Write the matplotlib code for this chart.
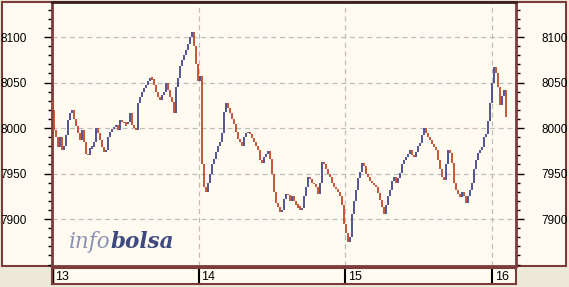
import matplotlib
matplotlib.use("Agg")
import matplotlib.pyplot as plt
from matplotlib.patches import Rectangle
from matplotlib.ticker import MultipleLocator

# ---- data (approximate closing prices, one bar per period) ----
day13 = [8020, 7998, 7990, 7979, 7990, 7976, 7980, 7992, 8009, 8016,
         8020, 8010, 8002, 7995, 7987, 7998, 7985, 7972, 7970, 7978,
         7979, 7985, 8000, 7995, 7987, 7979, 7974, 7976, 7990, 7996,
         7999, 8001, 8003, 7998, 8009, 8007, 8005, 8004, 8007, 8016,
         8003, 8000, 7998, 8027, 8034, 8040, 8044, 8047, 8052, 8055,
         8054, 8047, 8040, 8034, 8031, 8036, 8040, 8049, 8042, 8034,
         8029, 8016, 8045, 8055, 8068, 8075, 8080, 8086, 8092, 8100,
         8106, 8090, 8070, 8052]
day14 = [8057, 7960, 7935, 7930, 7940, 7950, 7960, 7966, 7974, 7980,
         7985, 7995, 8018, 8027, 8022, 8016, 8010, 8004, 7996, 7988,
         7985, 7980, 7990, 7994, 7996, 7993, 7989, 7985, 7980, 7976,
         7965, 7962, 7968, 7972, 7975, 7966, 7950, 7930, 7918, 7913,
         7908, 7910, 7922, 7928, 7926, 7920, 7925, 7920, 7915, 7914,
         7910, 7912, 7925, 7935, 7946, 7944, 7940, 7938, 7935, 7928,
         7940, 7963, 7960, 7955, 7950, 7946, 7940, 7935, 7933, 7930,
         7925, 7915, 7895]
day15 = [7885, 7875, 7880, 7905, 7920, 7932, 7945, 7952, 7962, 7958,
         7950, 7946, 7942, 7940, 7937, 7935, 7929, 7921, 7913, 7905,
         7915, 7925, 7932, 7942, 7946, 7940, 7945, 7951, 7960, 7965,
         7968, 7972, 7976, 7970, 7968, 7974, 7980, 7984, 7992, 8000,
         7994, 7990, 7987, 7982, 7979, 7976, 7965, 7955, 7946, 7943,
         7960, 7976, 7973, 7962, 7940, 7932, 7927, 7924, 7930, 7925,
         7918, 7925, 7932, 7940, 7955, 7965, 7973, 7976, 7979, 7990,
         7993, 8008, 8027]
day16 = [8050, 8067, 8060, 8045, 8025, 8035, 8042, 8012]
first_open = 8030
day_labels = ["13", "14", "15", "16"]
y_ticks = [7900, 7950, 8000, 8050, 8100]

closes = day13 + day14 + day15 + day16
bars_per_day = 73.35
xs = [k / bars_per_day for k in range(len(closes))]
opens = [first_open] + closes[:-1]

# ---- figure ----
W, H = 569, 287
fig = plt.figure(figsize=(W / 100, H / 100), dpi=100, facecolor="#ECE9D8")
cream = "#FFFBF0"
frame = "#7E3B3B"

def fx(px):
    return px / W

def fy(py):
    return 1 - py / H

# outer panel (label areas)
fig.patches.append(Rectangle((fx(2), fy(266)), fx(564), (264) / H,
                             transform=fig.transFigure, facecolor=cream,
                             edgecolor=frame, lw=1.5, zorder=-5))

ax = fig.add_axes([fx(52), fy(266), fx(464), 264 / H])
ax.set_zorder(2)
ax.set_facecolor(cream)
ax.set_xlim(0, 3.163)
ax.set_ylim(7848.4, 8138.5)

up_c = "#45478F"
dn_c = "#C2482A"
for x, o, c in zip(xs, opens, closes):
    col = up_c if c >= o else dn_c
    lo, hi = min(o, c), max(o, c)
    if hi - lo < 2:
        hi += 1.5
        lo -= 1.5
    ax.vlines(x, lo, hi, color=col, lw=1.3, zorder=3)

# grid
for yv in y_ticks:
    ax.axhline(yv, color="#BDBDBD", lw=0.9, ls=(0, (4, 3)), zorder=1)
for d in range(1, len(day_labels)):
    ax.axvline(d, color="#BDBDBD", lw=0.9, ls=(0, (4, 3)), zorder=1)

ax.set_yticks(y_ticks)
ax.yaxis.set_minor_locator(MultipleLocator(10))
ax.set_xticks([])
ax.tick_params(axis="y", which="major", left=True, right=True, labelleft=True,
               labelright=True, direction="out", length=6, width=1,
               pad=12, labelsize=8.5, color="black")
ax.tick_params(axis="y", which="minor", left=True, right=True,
               direction="out", length=3, width=1, color="black")
for lab in ax.get_yticklabels():
    lab.set_fontfamily("Liberation Sans")

for side in ["left", "right", "bottom"]:
    ax.spines[side].set_color(frame)
    ax.spines[side].set_linewidth(2)
ax.spines["top"].set_color("#3A2020")
ax.spines["top"].set_linewidth(2)

# watermark
t1 = ax.text((69 - 52) / 464, 1 - (248 - 2) / 264, "info", fontsize=15.5,
             family="DejaVu Serif", style="italic", color="#8C92B4",
             va="baseline", ha="left", transform=ax.transAxes, zorder=2)
ax.annotate("bolsa", xy=(1, 0), xycoords=t1, fontsize=15.5,
            family="DejaVu Serif", style="italic", weight="bold",
            color="#3E4A7E", va="bottom", ha="left", annotation_clip=False,
            zorder=2)

# bottom x-axis strip
axb = fig.add_axes([fx(52), fy(284), fx(464), 16 / H])
axb.set_facecolor(cream)
axb.set_xlim(ax.get_xlim())
axb.set_ylim(0, 1)
axb.set_xticks([])
axb.set_yticks([])
for s in axb.spines.values():
    s.set_color(frame)
    s.set_linewidth(1.5)
for d, lab in enumerate(day_labels):
    axb.axvline(d, color="black", lw=2.5 if d == 0 else 1.5)
    axb.text(d + 0.018, 0.45, lab, ha="left", va="center", fontsize=9,
             family="Liberation Sans", color="black")

fig.savefig("out.png", dpi=100, facecolor=fig.get_facecolor())
